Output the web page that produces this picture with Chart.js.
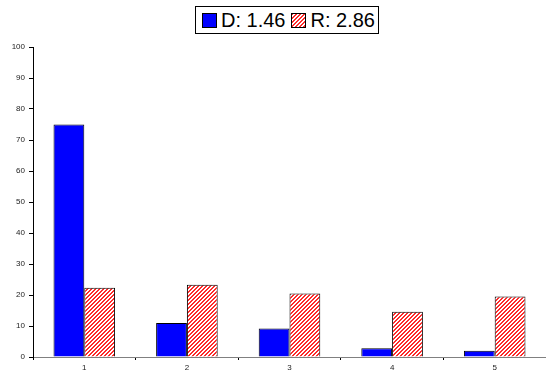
<!DOCTYPE html>
<html>
<head>
<meta charset="utf-8">
<script src="https://cdn.jsdelivr.net/npm/chart.js@4"></script>
<style>
  html, body { margin: 0; padding: 0; background: #fff; }
  #wrap { position: relative; width: 546px; height: 373px; }
  #legend {
    position: absolute; left: 195px; top: 6px; height: 26px;
    border: 1px solid #000; background: #fff;
    font-family: "Liberation Sans", Arial, sans-serif; font-size: 20px;
    display: flex; align-items: center; padding: 0 3px 0 6px; white-space: nowrap;
  }
  #legend .sw { display: inline-block; width: 13px; height: 13px; border: 1px solid #000; margin-right: 4px; }
  #legend .item { display: flex; align-items: center; margin-right: 6px; }
  #legend .item:last-child { margin-right: 0; }
</style>
</head>
<body>
<div id="wrap">
  <canvas id="chart" width="546" height="373"></canvas>
  <div id="legend">
    <span class="item"><span class="sw" style="background:#0000ff"></span>D: 1.46</span>
    <span class="item"><span class="sw" id="rsw"></span>R: 2.86</span>
  </div>
</div>
<script>
const categories = ['1', '2', '3', '4', '5'];
const seriesNames = ['D: 1.46', 'R: 2.86'];
const dValues = [75, 11, 9.2, 2.8, 2];
const rValues = [22.3, 23.3, 20.5, 14.6, 19.5];
const yTicks = [0, 10, 20, 30, 40, 50, 60, 70, 80, 90, 100];

// red diagonal hatch, fine and dense
function makeHatch() {
    const p = document.createElement('canvas');
    p.width = 4; p.height = 4;
    const c = p.getContext('2d');
    c.fillStyle = '#ffffff';
    c.fillRect(0, 0, 4, 4);
    c.fillStyle = '#ff2a2a';
    for (let i = 0; i < 4; i++) {
        c.fillRect(i, 3 - i, 1, 1);
        c.fillRect((i + 1) % 4, 3 - i, 1, 1);
    }
    return p;
}

const hatchCanvas = makeHatch();
document.getElementById('rsw').style.backgroundImage = 'url(' + hatchCanvas.toDataURL() + ')';

const ctx = document.getElementById('chart').getContext('2d');
const hatch = ctx.createPattern(hatchCanvas, 'repeat');

new Chart(ctx, {
    type: 'bar',
    data: {
        labels: categories,
        datasets: [{
            label: seriesNames[0],
            data: dValues,
            backgroundColor: '#0000ff',
            borderColor: '#000000',
            borderWidth: 1,
            categoryPercentage: 0.6,
            barPercentage: 1.0
        }, {
            label: seriesNames[1],
            data: rValues,
            backgroundColor: hatch,
            borderColor: '#000000',
            borderWidth: 1,
            categoryPercentage: 0.6,
            barPercentage: 1.0
        }]
    },
    options: {
        responsive: false,
        animation: false,
        layout: { padding: { top: 47, right: 0, left: 0, bottom: 0 } },
        plugins: {
            legend: { display: false },
            tooltip: { enabled: false }
        },
        scales: {
            x: {
                grid: {
                    offset: true,
                    drawOnChartArea: false,
                    tickLength: 3,
                    color: '#000'
                },
                border: { color: '#808080', width: 1 },
                ticks: {
                    color: '#222',
                    font: { family: '"Liberation Sans", Arial, sans-serif', size: 8 },
                    padding: 3
                },
                afterFit: function (scale) { scale.height = 16; }
            },
            y: {
                min: 0,
                max: 100,
                afterBuildTicks: function (scale) {
                    scale.ticks = yTicks.map(v => ({ value: v }));
                },
                grid: {
                    drawOnChartArea: false,
                    tickLength: 4,
                    color: '#000'
                },
                border: { color: '#000', width: 1 },
                ticks: {
                    color: '#222',
                    font: { family: '"Liberation Sans", Arial, sans-serif', size: 8 },
                    padding: 4
                },
                afterFit: function (scale) { scale.width = 33; }
            }
        }
    }
});
</script>
</body>
</html>
